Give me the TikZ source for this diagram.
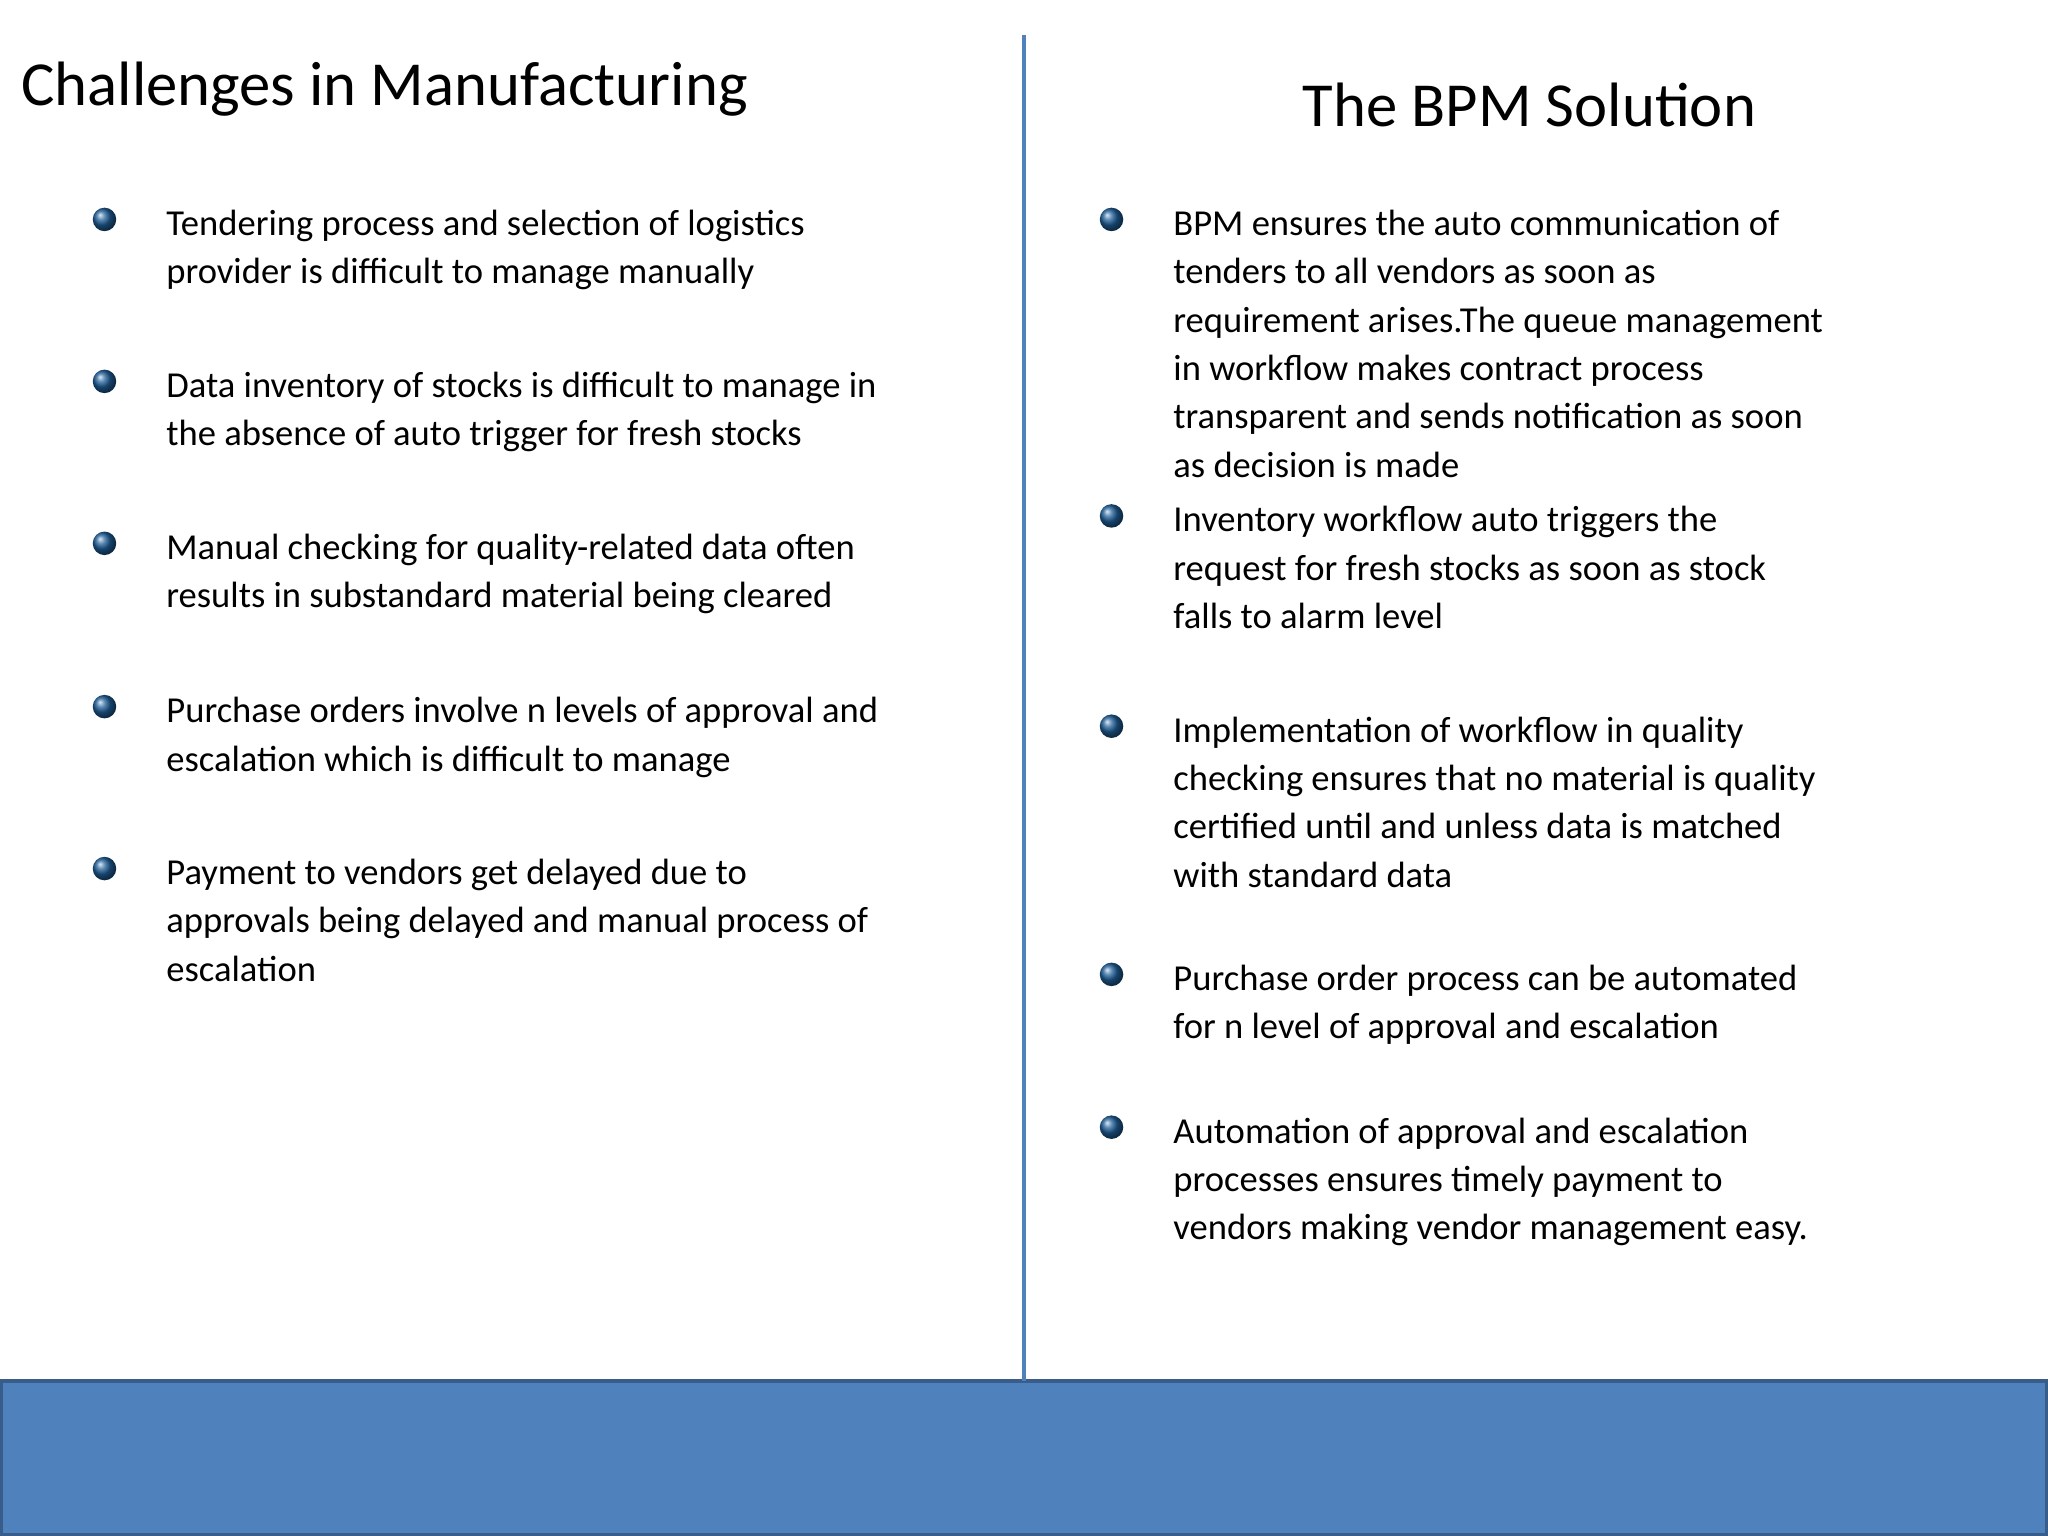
\documentclass[tikz,border=0pt]{standalone}
\usepackage{fontspec}
\setmainfont{Carlito}
\definecolor{bpmblue}{HTML}{4F81BD}
\definecolor{bpmdark}{HTML}{385D8A}
\definecolor{ballblue}{HTML}{1F5F99}
\tikzset{
  body/.style={anchor=north west,inner sep=0pt,align=left,font=\fontsize{14}{18.5}\selectfont},
  ttl/.style={inner sep=0pt,font=\fontsize{24}{28}\selectfont},
  ball/.style={circle,minimum size=9pt,inner sep=0pt,ball color=ballblue},
}
\begin{document}
\begin{tikzpicture}[x=0.5pt,y=-0.5pt]
\useasboundingbox (0,0) rectangle (1568,1176);
\fill[white] (0,0) rectangle (1568,1176);
\fill[bpmblue,draw=bpmdark,line width=1.5pt] (1,1057) rectangle (1567,1175);
\draw[bpmblue,line width=1.2pt] (784,27) -- (784,1057);
\node[ttl,anchor=west] (t1) at (16,68) {Challenges in Manufacturing};
\node[ttl] (t2) at (1171,80) {The BPM Solution};
% left
\foreach \y/\n/\t in {154/a/{Tendering process and selection of logistics\\provider is difficult to manage manually},
 278/b/{Data inventory of stocks is difficult to manage in\\the absence of auto trigger for fresh stocks},
 402/c/{Manual checking for quality-related data often\\results in substandard material being cleared},
 527/d/{Purchase orders involve n levels of approval and\\escalation which is difficult to manage},
 651/e/{Payment to vendors get delayed due to\\approvals being delayed and manual process of\\escalation}}{
  \node[body] (l\n) at (127,\y) {\strut\t};
  \node[ball] (lb\n) at (80,\y+14) {};
}
\foreach \y/\n/\t in {154/a/{BPM ensures the auto communication of\\tenders to all vendors as soon as\\requirement arises.The queue management\\in workflow makes contract process\\transparent and sends notification as soon\\as decision is made},
 381/b/{Inventory workflow auto triggers the\\request for fresh stocks as soon as stock\\falls to alarm level},
 542/c/{Implementation of workflow in quality\\checking ensures that no material is quality\\certified until and unless data is matched\\with standard data},
 732/d/{Purchase order process can be automated\\for n level of approval and escalation},
 849/e/{Automation of approval and escalation\\processes ensures timely payment to\\vendors making vendor management easy.}}{
  \node[body] (r\n) at (898,\y) {\strut\t};
  \node[ball] (rb\n) at (851,\y+14) {};
}
\end{tikzpicture}
\end{document}
